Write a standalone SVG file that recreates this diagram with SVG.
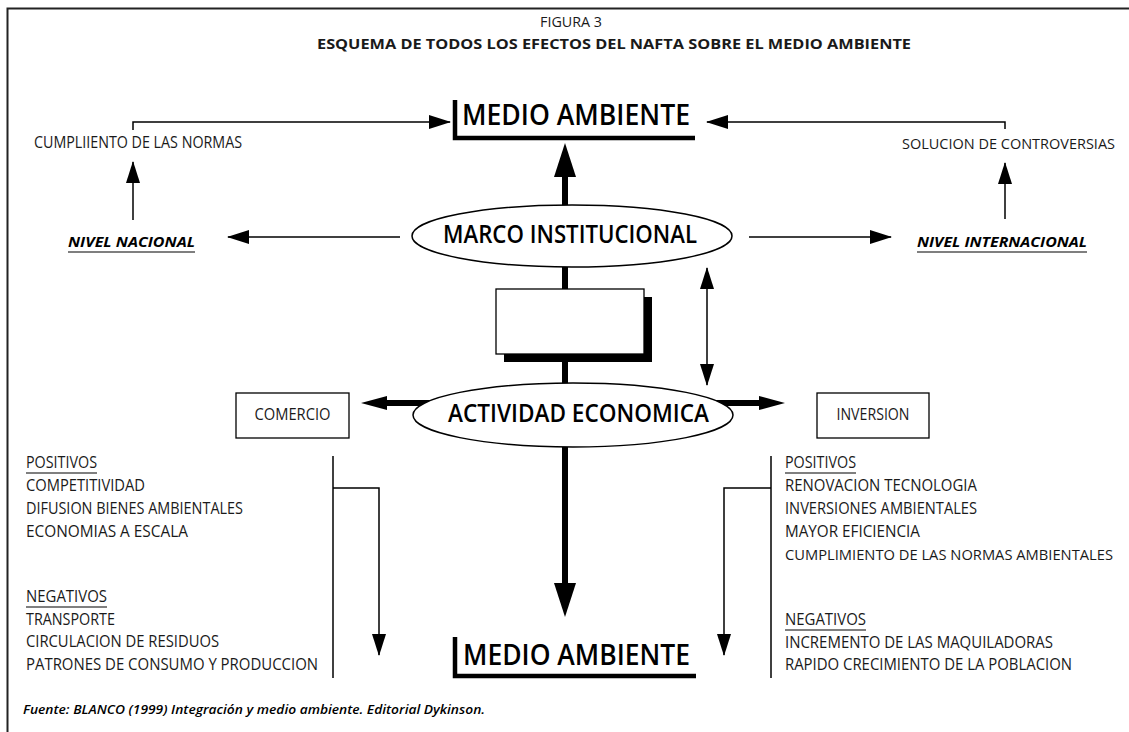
<svg xmlns="http://www.w3.org/2000/svg" width="1129" height="732" viewBox="0 0 1129 732">
<style>
.t{font-family:"Open Sans","Liberation Sans",sans-serif;font-size:16px;fill:#1a1a1a}
.big{font-family:"Open Sans","Liberation Sans",sans-serif;font-weight:600;fill:#000}
.bi{font-family:"Open Sans","Liberation Sans",sans-serif;font-weight:700;font-style:italic;font-size:15px;fill:#000}
.thin{fill:none;stroke:#000;stroke-width:1.5}
.thick{fill:none;stroke:#000;stroke-width:6}
.ul{stroke:#000;stroke-width:1.2}
.br{fill:none;stroke:#000;stroke-width:4.5;stroke-linejoin:miter}
.box{fill:#fff;stroke:#000;stroke-width:1.3}
.ell{fill:#fff;stroke:#000;stroke-width:1.5}
</style>
<defs>
<marker id="a" viewBox="0 0 22 14" markerWidth="22" markerHeight="14" refX="21" refY="7" orient="auto-start-reverse" markerUnits="userSpaceOnUse"><path d="M0,0 L22,7 L0,14 z" fill="#000"/></marker>
<marker id="tv" viewBox="0 0 34 22" markerWidth="34" markerHeight="22" refX="1" refY="11" orient="auto" markerUnits="userSpaceOnUse"><path d="M0,0 L34,11 L0,22 z" fill="#000"/></marker>
<marker id="th" viewBox="0 0 26 14" markerWidth="26" markerHeight="14" refX="1" refY="7" orient="auto" markerUnits="userSpaceOnUse"><path d="M0,0 L26,7 L0,14 z" fill="#000"/></marker>
</defs>
<rect width="1129" height="732" fill="#fff"/>
<path d="M7.5,732 V8.5 H1129" fill="none" stroke="#222" stroke-width="2"/>

<g id="title">
<text class="t" x="571" y="27" text-anchor="middle" style="font-size:14.5px" textLength="62" lengthAdjust="spacingAndGlyphs">FIGURA 3</text>
<text class="t" x="614" y="49" text-anchor="middle" style="font-size:14.5px;font-weight:700" textLength="594" lengthAdjust="spacingAndGlyphs">ESQUEMA DE TODOS LOS EFECTOS DEL NAFTA SOBRE EL MEDIO AMBIENTE</text>
</g>

<g id="connectors">
<path class="thin" d="M133,130 V122 H450" marker-end="url(#a)"/>
<path class="thin" d="M1005,129 V122 H707" marker-end="url(#a)"/>
<path class="thin" d="M133,220 V162" marker-end="url(#a)"/>
<path class="thin" d="M1005,219 V163" marker-end="url(#a)"/>
<path class="thin" d="M400,237 H228" marker-end="url(#a)"/>
<path class="thin" d="M749,237 H891" marker-end="url(#a)"/>
<path class="thin" d="M707,268 V385" marker-start="url(#a)" marker-end="url(#a)"/>
<path class="thin" d="M333,456 V678"/>
<path class="thin" d="M333,488 H379 V655" marker-end="url(#a)"/>
<path class="thin" d="M771,456 V678"/>
<path class="thin" d="M771,488 H724 V655" marker-end="url(#a)"/>
<path class="thick" d="M565,210 V176" marker-end="url(#tv)"/>
<path class="thick" d="M565,262 V292"/>
<path class="thick" d="M565,358 V388"/>
<path class="thick" d="M565,440 V584" marker-end="url(#tv)"/>
<path class="thick" d="M440,403 H386" marker-end="url(#th)"/>
<path class="thick" d="M700,403 H760" marker-end="url(#th)"/>
</g>

<g id="medio-top">
<path class="br" d="M455,100 V138 H695"/>
<text class="big" x="462" y="125" font-size="28" textLength="228" lengthAdjust="spacingAndGlyphs">MEDIO AMBIENTE</text>
</g>

<g id="cumplimiento">
<text class="t" x="34" y="148" textLength="208" lengthAdjust="spacingAndGlyphs">CUMPLIIENTO DE LAS NORMAS</text>
</g>
<g id="solucion">
<text class="t" x="902" y="149" style="font-size:14.2px" textLength="213" lengthAdjust="spacingAndGlyphs">SOLUCION DE CONTROVERSIAS</text>
</g>

<g id="nivel-nacional">
<text class="bi" x="68" y="247" textLength="127" lengthAdjust="spacingAndGlyphs">NIVEL NACIONAL</text>
<line class="ul" x1="68" y1="252" x2="195" y2="252"/>
</g>
<g id="nivel-internacional">
<text class="bi" x="917" y="247" textLength="170" lengthAdjust="spacingAndGlyphs">NIVEL INTERNACIONAL</text>
<line class="ul" x1="917" y1="252" x2="1087" y2="252"/>
</g>

<g id="marco">
<ellipse class="ell" cx="572" cy="236" rx="160" ry="31"/>
<text class="big" x="570" y="243" font-size="25" text-anchor="middle" textLength="254" lengthAdjust="spacingAndGlyphs">MARCO INSTITUCIONAL</text>
</g>

<g id="caja">
<rect x="504" y="297" width="148" height="65" fill="#000"/>
<rect class="box" x="496" y="289" width="148" height="65"/>
</g>

<g id="actividad">
<ellipse class="ell" cx="573" cy="415" rx="160" ry="32"/>
<text class="big" x="578.5" y="422" font-size="25" text-anchor="middle" textLength="261" lengthAdjust="spacingAndGlyphs">ACTIVIDAD ECONOMICA</text>
</g>

<g id="comercio">
<rect class="box" x="236" y="393" width="113" height="45"/>
<text class="t" x="292.5" y="420" text-anchor="middle" textLength="76" lengthAdjust="spacingAndGlyphs">COMERCIO</text>
</g>
<g id="inversion">
<rect class="box" x="817" y="393" width="112" height="45"/>
<text class="t" x="873" y="420" text-anchor="middle" textLength="73" lengthAdjust="spacingAndGlyphs">INVERSION</text>
</g>

<g id="comercio-efectos">
<text class="t" x="26" y="468" textLength="71" lengthAdjust="spacingAndGlyphs">POSITIVOS</text>
<line class="ul" x1="26" y1="473" x2="97" y2="473"/>
<text class="t" x="26" y="491" textLength="119" lengthAdjust="spacingAndGlyphs">COMPETITIVIDAD</text>
<text class="t" x="26" y="514" textLength="217" lengthAdjust="spacingAndGlyphs">DIFUSION BIENES AMBIENTALES</text>
<text class="t" x="26" y="537" textLength="162" lengthAdjust="spacingAndGlyphs">ECONOMIAS A ESCALA</text>
<text class="t" x="26" y="602" textLength="81" lengthAdjust="spacingAndGlyphs">NEGATIVOS</text>
<line class="ul" x1="26" y1="607" x2="107" y2="607"/>
<text class="t" x="26" y="625" textLength="89" lengthAdjust="spacingAndGlyphs">TRANSPORTE</text>
<text class="t" x="26" y="647" textLength="193" lengthAdjust="spacingAndGlyphs">CIRCULACION DE RESIDUOS</text>
<text class="t" x="26" y="670" textLength="292" lengthAdjust="spacingAndGlyphs">PATRONES DE CONSUMO Y PRODUCCION</text>
</g>

<g id="inversion-efectos">
<text class="t" x="785" y="468" textLength="71" lengthAdjust="spacingAndGlyphs">POSITIVOS</text>
<line class="ul" x1="785" y1="473" x2="856" y2="473"/>
<text class="t" x="785" y="491" textLength="192" lengthAdjust="spacingAndGlyphs">RENOVACION TECNOLOGIA</text>
<text class="t" x="785" y="514" textLength="192" lengthAdjust="spacingAndGlyphs">INVERSIONES AMBIENTALES</text>
<text class="t" x="785" y="537" textLength="135" lengthAdjust="spacingAndGlyphs">MAYOR EFICIENCIA</text>
<text class="t" x="785" y="560" style="font-size:14.2px" textLength="328" lengthAdjust="spacingAndGlyphs">CUMPLIMIENTO DE LAS NORMAS AMBIENTALES</text>
<text class="t" x="785" y="625" textLength="81" lengthAdjust="spacingAndGlyphs">NEGATIVOS</text>
<line class="ul" x1="785" y1="630" x2="866" y2="630"/>
<text class="t" x="785" y="648" textLength="268" lengthAdjust="spacingAndGlyphs">INCREMENTO DE LAS MAQUILADORAS</text>
<text class="t" x="785" y="670" textLength="287" lengthAdjust="spacingAndGlyphs">RAPIDO CRECIMIENTO DE LA POBLACION</text>
</g>

<g id="medio-bottom">
<path class="br" d="M455,637 V676 H696"/>
<text class="big" x="463" y="665" font-size="28" textLength="227" lengthAdjust="spacingAndGlyphs">MEDIO AMBIENTE</text>
</g>

<g id="fuente">
<text class="bi" x="23" y="714" style="font-size:13px;font-weight:600" textLength="462" lengthAdjust="spacingAndGlyphs">Fuente: BLANCO (1999) Integración y medio ambiente. Editorial Dykinson.</text>
</g>
</svg>
